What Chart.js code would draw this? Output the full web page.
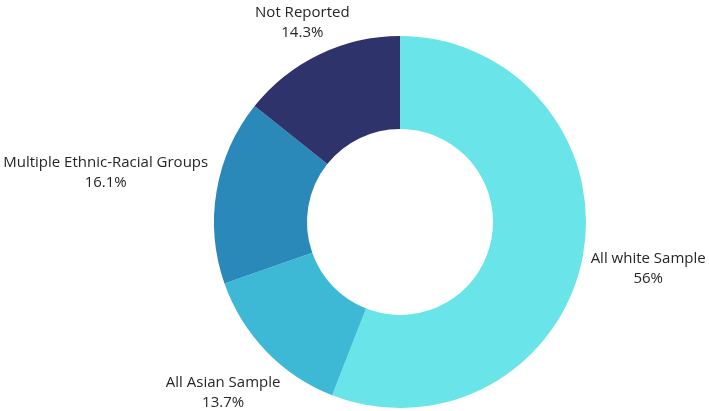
<!DOCTYPE html>
<html>
<head>
<meta charset="utf-8">
<script src="https://cdn.jsdelivr.net/npm/chart.js@4.4.1/dist/chart.umd.min.js"></script>
<style>
  html, body { margin: 0; padding: 0; background: #ffffff; }
  #wrap { width: 709px; height: 411px; position: relative; }
</style>
</head>
<body>
<div id="wrap"><canvas id="sampleChart"></canvas></div>
<script>
// =====================
// Chart data
// =====================
const categories = ['All white Sample', 'All Asian Sample', 'Multiple Ethnic-Racial Groups', 'Not Reported'];
const shares = [56, 13.7, 16.1, 14.3];
const shareLabels = ['56%', '13.7%', '16.1%', '14.3%'];
const sliceColors = ['#69e4e8', '#3db8d5', '#2b89ba', '#2f336b'];

// Draws the two-line label outside each slice
const outsideLabels = {
    id: 'outsideLabels',
    afterDraw(chart, args, opts) {
        const ctx = chart.ctx;
        const meta = chart.getDatasetMeta(0);
        const lineH = 20;
        ctx.save();
        ctx.font = '15px "Open Sans", sans-serif';
        ctx.fillStyle = '#262626';
        ctx.textAlign = 'center';
        ctx.textBaseline = 'middle';
        meta.data.forEach((arc, i) => {
            const mid = (arc.startAngle + arc.endAngle) / 2;
            const cos = Math.cos(mid), sin = Math.sin(mid);
            const r = arc.outerRadius + 8;
            const px = arc.x + cos * r;
            const py = arc.y + sin * r;
            const lines = [categories[i], shareLabels[i]];
            const w = Math.max(...lines.map(t => ctx.measureText(t).width));
            const h = lines.length * lineH;
            const nudge = opts.nudge[i] || [0, 0];
            const cx = px + cos * w / 2 + nudge[0];
            const cy = py + sin * h + nudge[1];
            lines.forEach((t, k) => {
                ctx.fillText(t, cx, cy - h / 2 + lineH / 2 + k * lineH);
            });
        });
        ctx.restore();
    }
};

const ctx = document.getElementById('sampleChart').getContext('2d');
const chart = new Chart(ctx, {
    type: 'doughnut',
    data: {
        labels: categories,
        datasets: [{ data: shares, backgroundColor: sliceColors, borderWidth: 0 }]
    },
    options: {
        responsive: true,
        maintainAspectRatio: false,
        animation: false,
        cutout: '50%',
        layout: { padding: { top: 36, bottom: 3, left: 214, right: 123 } },
        plugins: {
            legend: { display: false },
            tooltip: { enabled: false },
            outsideLabels: { nudge: [[1, 3], [4, 8], [-2, -10], [7, 12]] }
        }
    },
    plugins: [outsideLabels]
});
</script>
</body>
</html>
